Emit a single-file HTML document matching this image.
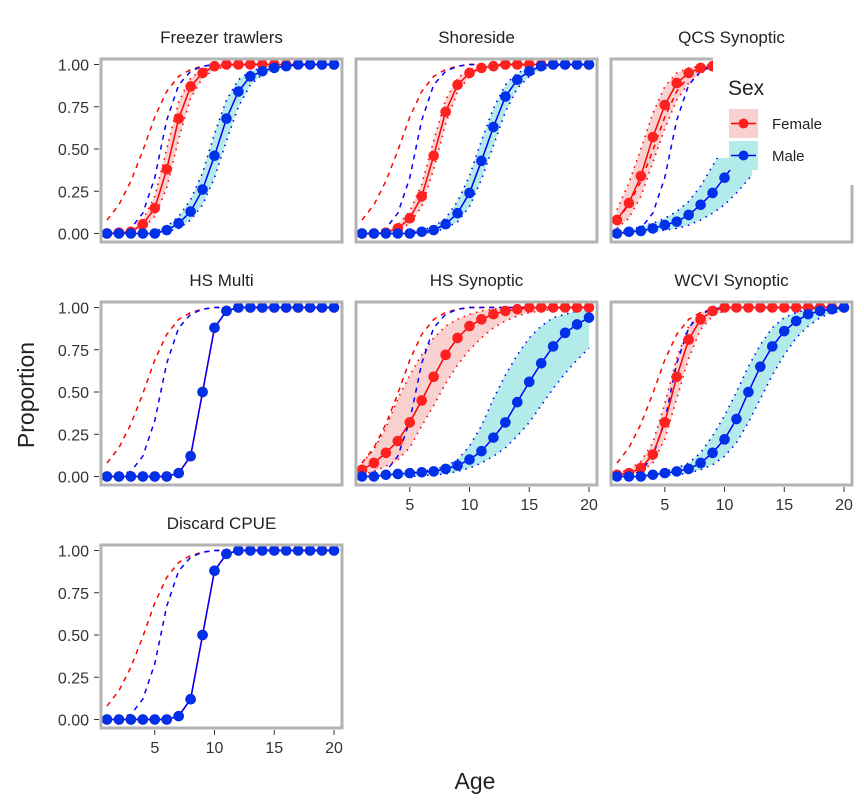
<!DOCTYPE html>
<html><head><meta charset="utf-8"><style>
body{margin:0;background:#fff;}
svg{display:block;font-family:"Liberation Sans",Arial,sans-serif;}
</style></head><body>
<svg id="chart" width="864" height="810" viewBox="0 0 864 810" xmlns="http://www.w3.org/2000/svg"></svg>
<script>
const ages = [1,2,3,4,5,6,7,8,9,10,11,12,13,14,15,16,17,18,19,20];
const yTicks = [0,0.25,0.5,0.75,1];
const yTickLabels = ["0.00","0.25","0.50","0.75","1.00"];
const xTicks = [5,10,15,20];
const panelNames = ["Freezer trawlers","Shoreside","QCS Synoptic","HS Multi","HS Synoptic","WCVI Synoptic","Discard CPUE"];
const refFemale = [0.08,0.17,0.31,0.49,0.69,0.84,0.93,0.97,0.99,1,1,1,1,1,1,1,1,1,1,1];
const refMale = [0,0.01,0.03,0.12,0.33,0.67,0.88,0.96,0.99,1,1,1,1,1,1,1,1,1,1,1];
const ftF = [0,0.005,0.01,0.055,0.15,0.38,0.68,0.87,0.95,0.99,1,1,1,1,1,1,1,1,1,1];
const ftFlo = [0,0,0.005,0.03,0.1,0.27,0.56,0.8,0.92,0.97,0.99,1,1,1,1,1,1,1,1,1];
const ftFhi = [0.005,0.01,0.02,0.08,0.22,0.5,0.78,0.92,0.97,0.99,1,1,1,1,1,1,1,1,1,1];
const ftM = [0,0,0,0,0,0.02,0.06,0.13,0.26,0.46,0.68,0.84,0.93,0.96,0.98,0.99,1,1,1,1];
const ftMlo = [0,0,0,0,0,0.01,0.03,0.08,0.17,0.33,0.55,0.75,0.88,0.94,0.97,0.98,0.99,1,1,1];
const ftMhi = [0,0,0,0,0.01,0.04,0.1,0.2,0.36,0.59,0.79,0.91,0.96,0.98,0.99,1,1,1,1,1];
const ssF = [0,0,0.005,0.03,0.09,0.22,0.46,0.72,0.88,0.95,0.98,0.99,1,1,1,1,1,1,1,1];
const ssFlo = [0,0,0,0.02,0.06,0.16,0.38,0.65,0.84,0.93,0.97,0.99,1,1,1,1,1,1,1,1];
const ssFhi = [0,0.005,0.01,0.05,0.13,0.29,0.55,0.79,0.92,0.97,0.99,1,1,1,1,1,1,1,1,1];
const ssM = [0,0,0,0,0,0.01,0.02,0.055,0.12,0.24,0.43,0.63,0.81,0.91,0.96,0.99,1,1,1,1];
const ssMlo = [0,0,0,0,0,0,0.01,0.03,0.07,0.16,0.32,0.52,0.72,0.86,0.93,0.97,0.99,1,1,1];
const ssMhi = [0,0,0,0,0.01,0.02,0.04,0.09,0.19,0.34,0.55,0.74,0.88,0.95,0.98,0.99,1,1,1,1];
const qcF = [0.08,0.18,0.34,0.57,0.76,0.89,0.95,0.98,0.99,1,1,1,1,1,1,1,1,1,1,1];
const qcFlo = [0.03,0.09,0.22,0.42,0.62,0.79,0.89,0.95,0.98,0.99,1,1,1,1,1,1,1,1,1,1];
const qcFhi = [0.14,0.3,0.5,0.71,0.87,0.95,0.98,0.99,1,1,1,1,1,1,1,1,1,1,1,1];
const qcM = [0,0.01,0.015,0.03,0.05,0.07,0.11,0.17,0.24,0.33,0.43,0.54,0.64,0.73,0.81,0.87,0.91,0.94,0.96,0.97];
const qcMlo = [0,0,0.005,0.01,0.02,0.03,0.05,0.08,0.12,0.17,0.24,0.32,0.41,0.5,0.59,0.67,0.74,0.8,0.85,0.88];
const qcMhi = [0.01,0.02,0.04,0.06,0.09,0.13,0.19,0.28,0.4,0.52,0.63,0.73,0.81,0.87,0.92,0.95,0.97,0.98,0.99,0.99];
const hmF = [0,0,0,0,0,0,0.02,0.12,0.5,0.88,0.98,1,1,1,1,1,1,1,1,1];
const hmM = [0,0,0,0,0,0,0.02,0.12,0.5,0.88,0.98,1,1,1,1,1,1,1,1,1];
const hsF = [0.04,0.08,0.14,0.21,0.32,0.45,0.59,0.72,0.82,0.89,0.93,0.96,0.98,0.99,1,1,1,1,1,1];
const hsFlo = [0.01,0.03,0.06,0.1,0.17,0.3,0.42,0.55,0.66,0.75,0.82,0.88,0.92,0.95,0.97,0.98,0.99,1,1,1];
const hsFhi = [0.08,0.16,0.29,0.46,0.6,0.72,0.82,0.89,0.93,0.96,0.98,0.99,1,1,1,1,1,1,1,1];
const hsM = [0,0,0.01,0.015,0.02,0.025,0.03,0.045,0.065,0.1,0.15,0.23,0.32,0.44,0.56,0.67,0.77,0.85,0.9,0.94];
const hsMlo = [0,0,0,0,0,0.005,0.01,0.015,0.03,0.05,0.08,0.12,0.17,0.24,0.32,0.42,0.52,0.61,0.69,0.76];
const hsMhi = [0,0.005,0.01,0.02,0.025,0.03,0.04,0.06,0.1,0.18,0.3,0.46,0.6,0.72,0.82,0.89,0.94,0.96,0.98,0.99];
const wcF = [0.01,0.02,0.05,0.13,0.32,0.59,0.81,0.93,0.98,1,1,1,1,1,1,1,1,1,1,1];
const wcFlo = [0,0.01,0.03,0.08,0.22,0.46,0.7,0.87,0.95,0.98,0.99,1,1,1,1,1,1,1,1,1];
const wcFhi = [0.02,0.04,0.09,0.2,0.43,0.7,0.89,0.97,0.99,1,1,1,1,1,1,1,1,1,1,1];
const wcM = [0,0,0,0.01,0.02,0.03,0.045,0.08,0.14,0.22,0.34,0.5,0.65,0.77,0.86,0.92,0.96,0.98,0.99,1];
const wcMlo = [0,0,0,0,0.01,0.01,0.02,0.04,0.07,0.12,0.2,0.32,0.46,0.6,0.72,0.82,0.89,0.94,0.97,0.98];
const wcMhi = [0,0,0.01,0.02,0.03,0.05,0.08,0.14,0.24,0.36,0.5,0.65,0.78,0.88,0.94,0.97,0.99,1,1,1];

const NS="http://www.w3.org/2000/svg";
const svg=document.getElementById('chart');
function mk(tag,attrs,parent){const e=document.createElementNS(NS,tag);for(const k in attrs)e.setAttribute(k,attrs[k]);(parent||svg).appendChild(e);return e;}

const colX=[101,356,611], rowY=[59,302,545];
const panels=[
 {c:0,r:0,F:ftF,Flo:ftFlo,Fhi:ftFhi,M:ftM,Mlo:ftMlo,Mhi:ftMhi,yt:true,xt:false},
 {c:1,r:0,F:ssF,Flo:ssFlo,Fhi:ssFhi,M:ssM,Mlo:ssMlo,Mhi:ssMhi,yt:false,xt:false},
 {c:2,r:0,F:qcF,Flo:qcFlo,Fhi:qcFhi,M:qcM,Mlo:qcMlo,Mhi:qcMhi,yt:false,xt:false},
 {c:0,r:1,F:hmF,M:hmM,yt:true,xt:false},
 {c:1,r:1,F:hsF,Flo:hsFlo,Fhi:hsFhi,M:hsM,Mlo:hsMlo,Mhi:hsMhi,yt:false,xt:true},
 {c:2,r:1,F:wcF,Flo:wcFlo,Fhi:wcFhi,M:wcM,Mlo:wcMlo,Mhi:wcMhi,yt:false,xt:true},
 {c:0,r:2,F:hmF,M:hmM,yt:true,xt:true}
];
panels.forEach((p,i)=>{
  const x0=colX[p.c], y0=rowY[p.r];
  const sx=a=>x0+6+(a-1)*(227/19);
  const sy=v=>y0+174.5-v*169;
  const g=mk('g',{});
  
  
  const t=mk('text',{x:x0+120.5,y:y0-16,'text-anchor':'middle','font-size':17,fill:'#222'},g);t.textContent=panelNames[i];
  
  
  const pts=arr=>arr.map((v,k)=>sx(ages[k]).toFixed(1)+','+sy(v).toFixed(1)).join(' ');
  const band=(lo,hi,fill,stroke,nm)=>{
    const d='M'+lo.map((v,k)=>sx(ages[k])+','+sy(v)).join('L')+'L'+hi.map((v,k)=>sx(ages[k])+','+sy(v)).reverse().join('L')+'Z';
    const b=mk('path',{d:d,fill:fill},g);
    
    
    [lo,hi].forEach(a=>{const l=mk('polyline',{points:pts(a),fill:'none',stroke:stroke,'stroke-width':1.6,'stroke-dasharray':'1.5 5'},g);
      
      });
  };
  if(p.Flo) band(p.Flo,p.Fhi,'#f9d0d0','#ff0000','female');
  if(p.Mlo) band(p.Mlo,p.Mhi,'#b3ebeb','#0000ff','male');
  const rf=mk('polyline',{points:pts(refFemale),fill:'none',stroke:'#ff0000','stroke-width':1.5,'stroke-dasharray':'5 5'},g);
  
  
  const rm=mk('polyline',{points:pts(refMale),fill:'none',stroke:'#0000ff','stroke-width':1.5,'stroke-dasharray':'5 5'},g);
  
  
  [[p.F,'#ff0000','#ff2020','female'],[p.M,'#0000ff','#0030e8','male']].forEach(([arr,lc,pc,nm])=>{
    const l=mk('polyline',{points:pts(arr),fill:'none',stroke:lc,'stroke-width':1.5},g);
    
    
    arr.forEach((v,k)=>{const c=mk('circle',{cx:sx(ages[k]),cy:sy(v),r:5.3,fill:pc},g);
      
      });
  });
  const br=mk('rect',{x:x0,y:y0,width:241,height:183,fill:'none',stroke:'#b3b3b3','stroke-width':3},g);
  
  
  if(p.yt){yTicks.forEach((v,k)=>{
    const tk=mk('line',{x1:x0-7,x2:x0-2,y1:sy(v),y2:sy(v),stroke:'#333','stroke-width':1},g);
    
    
    const tl=mk('text',{x:x0-12,y:sy(v)+6,'text-anchor':'end','font-size':16,fill:'#333'},g);tl.textContent=yTickLabels[k];
    
    });}
  if(p.xt){xTicks.forEach(a=>{
    const tk=mk('line',{x1:sx(a),x2:sx(a),y1:y0+185,y2:y0+190,stroke:'#333','stroke-width':1},g);
    
    
    const tl=mk('text',{x:sx(a),y:y0+208,'text-anchor':'middle','font-size':16,fill:'#333'},g);tl.textContent=a;
    
    });}
});
// legend
const lg=mk('g',{});


mk('rect',{x:713,y:54,width:151,height:104,fill:'#fff'},lg);
mk('rect',{x:752,y:150,width:112,height:35,fill:'#fff'},lg);
const lt=mk('text',{x:728,y:95,'font-size':21,fill:'#222'},lg);lt.textContent='Sex';


[['Female','#f9d0d0','#ff0000','#ff2020',109],['Male','#b3ebeb','#0000ff','#0030e8',141]].forEach(([lab,f,lc,pc,y])=>{
  const e=mk('g',{},lg);
  
  
  mk('rect',{x:729,y:y,width:29,height:29,fill:f},e);
  mk('line',{x1:731,x2:756,y1:y+14.5,y2:y+14.5,stroke:lc,'stroke-width':1.5},e);
  mk('circle',{cx:743.5,cy:y+14.5,r:5,fill:pc},e);
  const tx=mk('text',{x:772,y:y+20,'font-size':15,fill:'#222'},e);tx.textContent=lab;
});
const yt=mk('text',{x:0,y:0,'font-size':23,fill:'#222','text-anchor':'middle',transform:'translate(34,395) rotate(-90)'});yt.textContent='Proportion';


const xt=mk('text',{x:475,y:789,'font-size':23,fill:'#222','text-anchor':'middle'});xt.textContent='Age';


</script>
</body></html>
